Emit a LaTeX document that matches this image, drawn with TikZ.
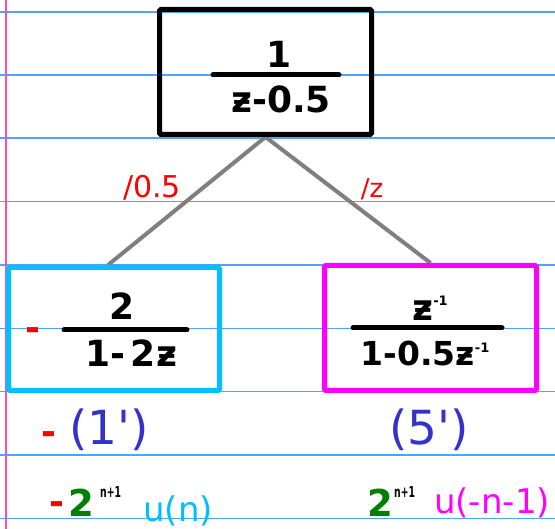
\documentclass[tikz,border=0pt]{standalone}
\usepackage{fontspec}
\setmainfont{DejaVu Sans}
\newfontfamily\tagfont{DejaVu Sans}
\usetikzlibrary{backgrounds}
\definecolor{rulecol}{HTML}{4DA3FF}
\definecolor{margincol}{HTML}{FF4FA8}
\definecolor{cyanbox}{HTML}{00BFFF}
\definecolor{magbox}{HTML}{FF00FF}
\definecolor{tagblue}{HTML}{3333CC}
\definecolor{hgreen}{HTML}{008000}
\definecolor{conncol}{HTML}{7F7F7F}
\newcommand{\fsz}[1]{\fontsize{#1}{#1}\selectfont}
\newcommand{\negone}{\raisebox{0.42em}{\fsz{13}\bfseries -1}}
\newcommand{\expo}{\scalebox{0.62}[1]{\fsz{15}\bfseries n+1}}
\begin{document}
\begin{tikzpicture}[x=1pt,y=-1pt,
  frame/.style={draw, line width=5pt, rounded corners=1.5pt, minimum width=212pt, minimum height=125pt, inner sep=0pt},
  hand/.style={inner sep=0pt, anchor=base, font=\fsz{36}\bfseries},
  fracbar/.style={line width=5pt, line cap=round},
  redlbl/.style={inner sep=0pt, anchor=base, text=red, font=\fsz{26}},
  tag/.style={inner sep=0pt, anchor=base, text=tagblue, font=\tagfont\fsz{47}},
  seq/.style={inner sep=0pt, anchor=base, font=\fsz{34}},
  conn/.style={draw=conncol, line width=4pt},
  ruleline/.style={draw=rulecol, line width=1.3pt}
]
\useasboundingbox (0,0) rectangle (555,529);
% boxes
\node[frame, draw=black] (top) at (265.5,72) {};
\node[frame, draw=cyanbox, minimum width=211pt, minimum height=123pt] (left) at (114,329) {};
\node[frame, draw=magbox] (right) at (430.5,328) {};
% top fraction
\node[hand] (t1) at (279,68) {1};
\draw[fracbar] (213,75) -- (339,75);
\node[hand] (t2) at (281,113) {ƶ-0.5};
% left fraction
\node[hand, text=red] (lm) at (33,341) {-};
\node[hand] (l1) at (122,320) {2};
\draw[fracbar] (64,330) -- (187,330);
\node[hand] (l2) at (131,367) {1-\,2ƶ};
% right fraction
\node[hand] (r1) at (430,321) {ƶ\negone};
\draw[fracbar] (353,328) -- (502,328);
\node[hand, font=\fsz{33}\bfseries] (r2) at (425,366) {1-0.5ƶ\negone};
% edge labels
\node[redlbl, font=\fsz{30}] (lab1) at (152,198) {/0.5};
\node[redlbl] (lab2) at (372,198) {/z};
% tags
\node[hand, text=red] (tm) at (49,445) {-};
\node[tag] (tag1) at (109,445) {(1')};
\node[tag] (tag5) at (429,445) {(5')};
% sequences
\node[hand, text=red] (sm) at (57,515) {-};
\node[hand, text=hgreen, font=\fsz{37}\bfseries] (g1) at (81,517) {2};
\node[inner sep=0pt, anchor=base west] (e1) at (100,498) {\expo};
\node[seq, text=cyanbox] (u1) at (178,522) {u(n)};
\node[hand, text=hgreen, font=\fsz{37}\bfseries] (g2) at (380,517) {2};
\node[inner sep=0pt, anchor=base west] (e2) at (394,498) {\expo};
\node[seq, text=magbox] (u2) at (492,514) {u(-n-1)};
\begin{pgfonlayer}{background}
  \fill[white] (0,0) rectangle (555,529);
  \foreach \yy in {12,75,138,201.7,265,328.3,391.7,455,518.3} {
    \path[ruleline] (0,\yy) -- (555,\yy);
  }
  \draw[margincol, line width=1.3pt] (6,0) -- (6,529);
  \path[conn] (top.south) -- ([xshift=-6pt]left.north);
  \path[conn] (top.south) -- (right.north);
\end{pgfonlayer}
\end{tikzpicture}
\end{document}
